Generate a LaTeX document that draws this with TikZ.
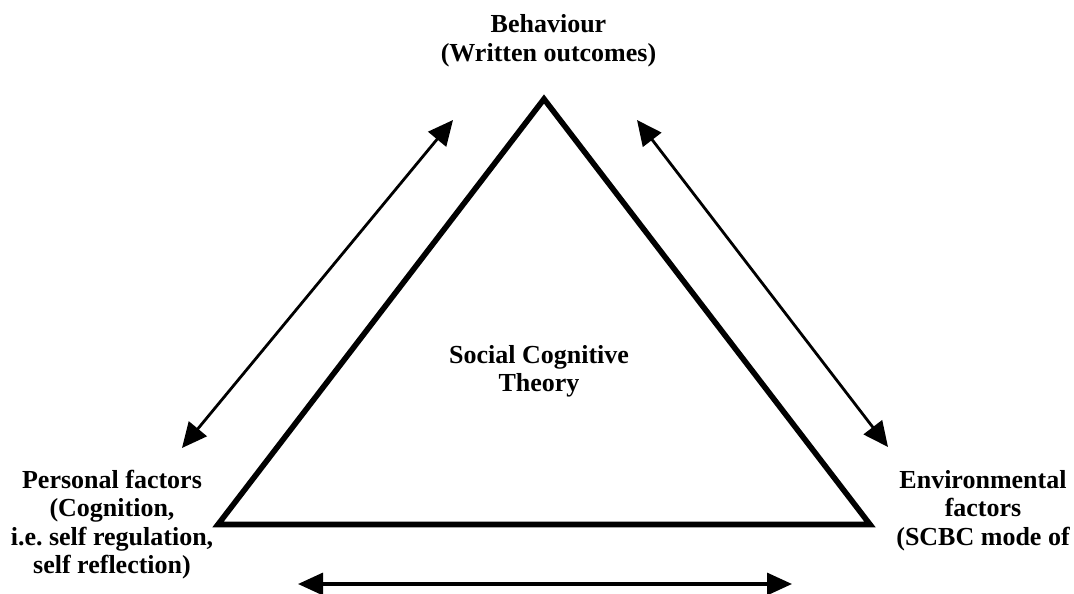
\documentclass[tikz,border=0pt]{standalone}
\usepackage{fontspec}
\setmainfont{Liberation Serif}
\usetikzlibrary{arrows.meta}
\begin{document}
\frenchspacing
\begin{tikzpicture}[x=1pt,y=-1pt,
  lbl/.style={inner sep=0pt,anchor=base,font=\fontsize{26}{28.5}\selectfont\bfseries},
  tri/.style={line width=5.6pt,line join=miter},
  link/.style={line width=2.8pt,{Triangle[length=25pt,width=23pt]}-{Triangle[length=25pt,width=23pt]}},
  blink/.style={line width=3.3pt,{Triangle[length=25pt,width=22pt]}-{Triangle[length=25pt,width=22pt]}}]
\useasboundingbox (0,0) rectangle (1074,594);
% triangle corners
\coordinate (apex) at (544,99);
\coordinate (bl) at (218,524.5);
\coordinate (br) at (870,524.5);
\draw[tri] (apex) -- (bl) -- (br) -- cycle;
% labels
\node[lbl] (beh) at (548.5,33) {\begin{tabular}[t]{@{}c@{}}Behaviour\\(Written outcomes)\end{tabular}};
\node[lbl] (sct) at (539,363) {\begin{tabular}[t]{@{}c@{}}Social Cognitive\\Theory\end{tabular}};
\node[lbl] (pers) at (112,488) {\begin{tabular}[t]{@{}c@{}}Personal factors\\(Cognition,\\i.e.\ self regulation,\\self reflection)\end{tabular}};
\node[lbl] (env) at (983,488) {\begin{tabular}[t]{@{}c@{}}Environmental\\factors\\(SCBC mode of\end{tabular}};
% arrow ends
\coordinate (la1) at (453,120);
\coordinate (la2) at (182,448);
\coordinate (ra1) at (637,120);
\coordinate (ra2) at (888,447);
\coordinate (ba1) at (298,584);
\coordinate (ba2) at (792,584);
\draw[link] (la1) -- (la2);
\draw[link] (ra1) -- (ra2);
\draw[blink] (ba1) -- (ba2);
\end{tikzpicture}
\end{document}
